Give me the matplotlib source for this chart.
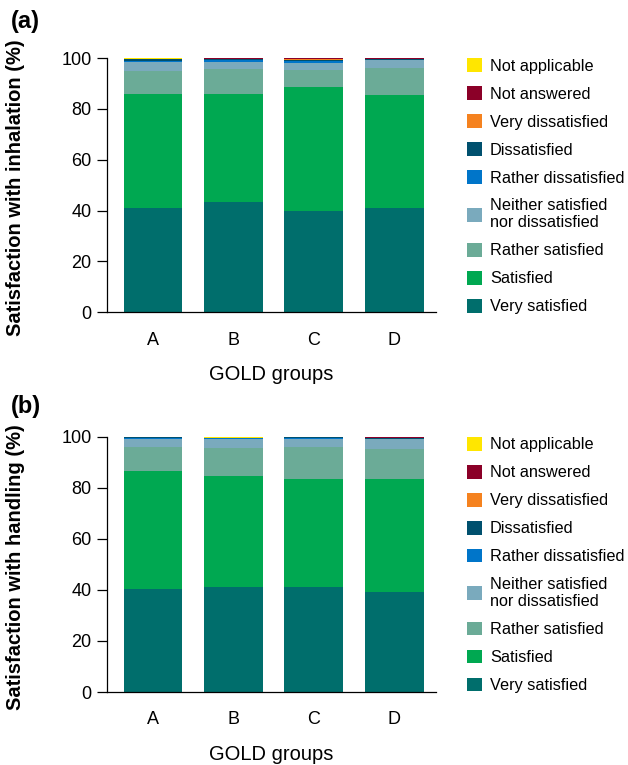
import numpy as np
import matplotlib.pyplot as plt
from matplotlib.patches import Patch

plt.rcParams['font.family'] = ['Liberation Sans', 'DejaVu Sans']

groups = ['A', 'B', 'C', 'D']
categories = ['Very satisfied', 'Satisfied', 'Rather satisfied',
              'Neither satisfied\nnor dissatisfied', 'Rather dissatisfied',
              'Dissatisfied', 'Very dissatisfied', 'Not answered', 'Not applicable']
colors = ['#006e6c', '#00a851', '#6bab97', '#7aaabd', '#0075c9',
          '#00506e', '#f5821f', '#8b0028', '#ffe600']

# percentages per category (rows) for groups A-D (columns)
inhalation = np.array([
    [41.0, 43.5, 40.0, 41.0],   # very satisfied
    [45.0, 42.5, 48.5, 44.5],   # satisfied
    [9.0, 9.8, 6.8, 10.7],      # rather satisfied
    [3.5, 2.7, 2.9, 3.2],       # neither
    [0.5, 0.8, 0.8, 0.0],       # rather dissatisfied
    [0.5, 0.3, 0.3, 0.3],       # dissatisfied
    [0.0, 0.0, 0.5, 0.0],       # very dissatisfied
    [0.0, 0.4, 0.2, 0.3],       # not answered
    [0.5, 0.0, 0.0, 0.0],       # not applicable
])
handling = np.array([
    [40.5, 41.0, 41.0, 39.0],
    [46.0, 43.5, 42.5, 44.5],
    [9.5, 11.3, 12.5, 11.8],
    [3.0, 3.5, 3.1, 4.0],
    [0.5, 0.4, 0.3, 0.0],
    [0.3, 0.0, 0.4, 0.4],
    [0.0, 0.0, 0.0, 0.0],
    [0.0, 0.0, 0.0, 0.3],
    [0.2, 0.3, 0.2, 0.0],
])

fig = plt.figure(figsize=(6.28, 7.65), dpi=100)
ax_a = fig.add_axes([0.1704, 0.592, 0.524, 0.332])
ax_b = fig.add_axes([0.1704, 0.0954, 0.524, 0.3336])

x = np.arange(len(groups))
panels = ((ax_a, inhalation, 'Satisfaction with inhalation (%)', '(a)', 0.972),
          (ax_b, handling, 'Satisfaction with handling (%)', '(b)', 0.468))
for ax, data, ylab, tag, ty in panels:
    bottom = np.zeros(len(groups))
    for vals, col in zip(data, colors):
        ax.bar(x, vals, 0.73, bottom=bottom, color=col, linewidth=0)
        bottom += vals
    ax.set_xlim(-0.57, 3.52)
    ax.set_ylim(0, 100)
    ax.set_yticks(range(0, 101, 20))
    ax.set_xticks(x)
    ax.set_xticklabels(groups)
    ax.tick_params(labelsize=13, width=0.9)
    ax.tick_params(axis='y', length=7, pad=4)
    ax.tick_params(axis='x', length=0, pad=14)
    for s in ('left', 'bottom'):
        ax.spines[s].set_linewidth(0.9)
    ax.spines['top'].set_visible(False)
    ax.spines['right'].set_visible(False)
    ax.set_ylabel(ylab, fontsize=14.5, fontweight='bold')
    ax.yaxis.set_label_coords(-0.249, 0.49)
    ax.set_xlabel('GOLD groups', fontsize=14.5, labelpad=12)
    fig.text(0.018, ty, tag, fontsize=17, fontweight='bold', va='center', ha='left')

    handles = [Patch(facecolor=c, edgecolor='none') for c in colors[::-1]]
    ax.legend(handles, categories[::-1], loc='upper left', bbox_to_anchor=(1.074, 1.025),
              frameon=False, fontsize=11.7, handlelength=0.92, handleheight=0.92,
              labelspacing=0.77, handletextpad=0.49, borderaxespad=0)

fig.savefig('out.png', dpi=100)
